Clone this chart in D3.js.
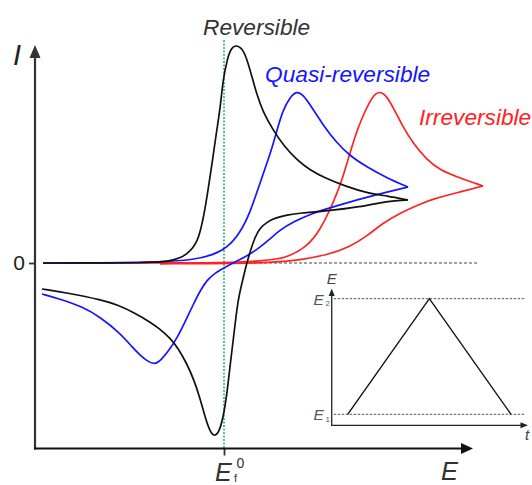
<!DOCTYPE html>
<html>
<head>
<meta charset="utf-8">
<script src="https://cdn.jsdelivr.net/npm/d3@7"></script>
<style>
  html, body { margin: 0; padding: 0; background: #fff; }
  svg { display: block; }
  text { font-family: "Liberation Sans", Arial, sans-serif; }
</style>
</head>
<body>
<svg id="chart" width="532" height="485"></svg>
<script>
// ---------------- DATA (E in mV vs. Ef0, I in arbitrary units) ----------------
const reversibleForward = [
  [-181,0],[-124,0],[-84,0.5],[-64,1],[-54,2],[-44,5],[-37,9],[-31,15],[-27,22],[-24,30],
  [-19,53],[-14,86],[-11,106],[-8,128],[-4,153],[-1,183],[3,203],[7,215],[12,218],[18,215],
  [23,204],[28,186],[33,168],[39,151],[49,133],[60,117],[73,103],[86,93],[101,85],[121,77],
  [143,70],[163,67],[184,63]
];
const reversibleReverse = [
  [184,63],[163,62],[136,56],[103,52],[76,50],[63,48],[51,45],[43,41],[36,35],[31,26],
  [26,11],[22,-3],[18,-20],[14,-37],[11,-62],[8,-87],[5,-112],[3,-130],[0,-150],[-4,-167],
  [-9,-174],[-14,-169],[-19,-154],[-24,-135],[-30,-117],[-37,-101],[-46,-85],[-54,-75],
  [-64,-66],[-74,-59],[-89,-50],[-106,-42],[-122,-37],[-156,-30],[-182,-26]
];
const quasiForward = [
  [-181,0],[-104,0],[-64,1],[-31,3],[-11,8],[3,15],[16,30],[26,50],[36,80],[43,100],
  [48,115],[53,133],[59,153],[66,166],[73,172],[79,168],[85,160],[99,138],[112,121],
  [126,107],[143,96],[163,85],[184,76]
];
const quasiReverse = [
  [184,76],[163,71],[136,64],[109,56],[89,50],[69,41],[56,33],[46,24],[34,14],[21,6],
  [9,0],[0,-5],[-9,-10],[-17,-17],[-24,-28],[-31,-42],[-39,-59],[-47,-75],[-54,-86],
  [-62,-96],[-69,-102],[-77,-98],[-84,-92],[-91,-85],[-104,-70],[-124,-54],[-141,-44],
  [-164,-36],[-182,-31]
];
const irreversibleForward = [
  [-181,0],[-24,0],[16,1],[36,2],[53,4],[63,6],[83,16],[96,33],
  [106,53],[113,70],[118,83],[126,110],[134,136],[143,156],[149,167],[155,172],[162,168],
  [169,156],[179,136],[189,120],[203,103],[216,93],[236,85],[259,77]
];
const irreversibleReverse = [
  [259,77],[236,71],[209,64],[196,59],[176,50],[159,40],[143,27],[126,16],[103,8],
  [76,3],[49,0.7],[16,-0.5],[-64,-0.8]
];
const seriesNames = ["Reversible", "Quasi-reversible", "Irreversible"];
const seriesColors = ["#111111", "#1515ff", "#ff2222"];
const yTickValues = [0];
const yTickLabels = ["0"];
const xTickValues = [0];            // Ef0
// inset: triangular potential waveform
const waveT = [0, 1, 2];
const waveE = [0, 1, 0];            // 0 = E1, 1 = E2
const waveLevelLabels = ["1", "2"];

// ---------------- LAYOUT ----------------
const svg = d3.select("#chart");
const axisColor = "#333333";
const x = d3.scaleLinear().domain([-189, 249]).range([35, 473]);
const y = d3.scaleLinear().domain([-185.5, 218]).range([448.5, 45]);

// dashed zero line
svg.append("line")
  .attr("x1", x(0)).attr("x2", 478).attr("y1", y(0)).attr("y2", y(0))
  .attr("stroke", "#444").attr("stroke-width", 1).attr("stroke-dasharray", "3,2");

// green Ef0 line
svg.append("line")
  .attr("x1", x(0)).attr("x2", x(0)).attr("y1", 40).attr("y2", y.range()[0])
  .attr("stroke", "#1fb45a").attr("stroke-width", 1.5).attr("stroke-dasharray", "2,1.5");

// axes via d3
const yAxis = d3.axisLeft(y).tickValues(yTickValues).tickFormat((d, i) => yTickLabels[i])
  .tickSize(6).tickSizeOuter(0).tickPadding(4);
const gy = svg.append("g").attr("transform", `translate(${x.range()[0]},0)`).call(yAxis);
gy.select(".domain").remove();
gy.selectAll(".tick line").attr("stroke", axisColor).attr("stroke-width", 1.8);
gy.selectAll(".tick text").attr("fill", "#222").style("font-size", "21px")
  .style("font-family", "'Liberation Sans', Arial, sans-serif");

const xAxis = d3.axisBottom(x).tickValues(xTickValues).tickFormat("").tickSize(7).tickSizeOuter(0);
const gx = svg.append("g").attr("transform", `translate(0,${y.range()[0]})`).call(xAxis);
gx.select(".domain").remove();
gx.selectAll(".tick line").attr("stroke", axisColor).attr("stroke-width", 1.8);

// axis lines with arrows
const x0 = x.range()[0], yb = y.range()[0];
svg.append("line").attr("x1", x0).attr("x2", x0).attr("y1", yb + 1).attr("y2", 55)
  .attr("stroke", axisColor).attr("stroke-width", 2.2);
svg.append("path").attr("d", `M${x0},45 L${x0 - 5.5},58 L${x0 + 5.5},58 Z`).attr("fill", axisColor);
svg.append("line").attr("x1", x0 - 1).attr("x2", 464).attr("y1", yb).attr("y2", yb)
  .attr("stroke", "#111").attr("stroke-width", 2.2);
svg.append("path").attr("d", `M473,${yb} L461,${yb - 5.5} L461,${yb + 5.5} Z`).attr("fill", "#111");

// curves
const line = d3.line().x(d => x(d[0])).y(d => y(d[1])).curve(d3.curveBasis);
const curves = [
  [irreversibleForward, irreversibleReverse, 2],
  [quasiForward, quasiReverse, 1],
  [reversibleForward, reversibleReverse, 0]
];
curves.forEach(([f, r, i]) => {
  [f, r].forEach(data => {
    svg.append("path").datum(data).attr("d", line)
      .attr("fill", "none").attr("stroke", seriesColors[i]).attr("stroke-width", 1.7)
      .attr("stroke-linejoin", "round");
  });
});

// series labels
const labelFont = "22.7px";
svg.append("text").attr("x", 203).attr("y", 35).text(seriesNames[0])
  .attr("fill", "#333").style("font-style", "italic").style("font-size", labelFont);
svg.append("text").attr("x", 265).attr("y", 82).text(seriesNames[1])
  .attr("fill", seriesColors[1]).style("font-style", "italic").style("font-size", labelFont);
svg.append("text").attr("x", 419).attr("y", 125).text(seriesNames[2])
  .attr("fill", seriesColors[2]).style("font-style", "italic").style("font-size", labelFont);

// axis titles
svg.append("text").attr("x", 13).attr("y", 65).text("I")
  .attr("fill", "#222").style("font-style", "italic").style("font-size", "29px");
svg.append("text").attr("x", 441).attr("y", 480).text("E")
  .attr("fill", "#333").style("font-style", "italic").style("font-size", "25.5px");
const ef = svg.append("text").attr("fill", "#333");
ef.append("tspan").attr("x", 215).attr("y", 481).text("E").style("font-style", "italic").style("font-size", "25px");
ef.append("tspan").attr("x", 234).attr("y", 482).text("f").style("font-size", "11px");
ef.append("tspan").attr("x", 236.5).attr("y", 468).text("0").style("font-size", "14px");

// ---------------- INSET ----------------
const tx = d3.scaleLinear().domain([0, 2]).range([347.7, 511]);
const ty = d3.scaleLinear().domain([0, 1]).range([414.3, 298.7]);
const ix0 = 331.7, iy0 = 425.3;
// dashed E1/E2 levels
[0, 1].forEach(v => {
  svg.append("line").attr("x1", ix0 + 2).attr("x2", 524.5).attr("y1", ty(v)).attr("y2", ty(v))
    .attr("stroke", "#555").attr("stroke-width", 1).attr("stroke-dasharray", "2.5,1.5");
});
svg.append("line").attr("x1", ix0).attr("x2", ix0).attr("y1", iy0 + 0.5).attr("y2", 294)
  .attr("stroke", "#222").attr("stroke-width", 1.3);
svg.append("path").attr("d", `M${ix0},288.5 L${ix0 - 3},296 L${ix0 + 3},296 Z`).attr("fill", "#222");
svg.append("line").attr("x1", ix0 - 0.5).attr("x2", 522).attr("y1", iy0).attr("y2", iy0)
  .attr("stroke", "#222").attr("stroke-width", 1.3);
svg.append("path").attr("d", `M528,${iy0} L520.5,${iy0 - 3} L520.5,${iy0 + 3} Z`).attr("fill", "#222");
svg.append("path").datum(waveT.map((t, i) => [t, waveE[i]]))
  .attr("d", d3.line().x(d => tx(d[0])).y(d => ty(d[1])))
  .attr("fill", "none").attr("stroke", "#111").attr("stroke-width", 1.4);
svg.append("text").attr("x", ix0).attr("y", 284).attr("text-anchor", "middle").text("E")
  .attr("fill", "#444").style("font-style", "italic").style("font-size", "15px");
svg.append("text").attr("x", 527).attr("y", 440).attr("text-anchor", "middle").text("t")
  .attr("fill", "#444").style("font-style", "italic").style("font-size", "15px");
[0, 1].forEach(v => {
  const tt = svg.append("text").attr("fill", "#555");
  tt.append("tspan").attr("x", 313.5).attr("y", ty(v) + 6).text("E")
    .style("font-style", "italic").style("font-size", "15.5px");
  tt.append("tspan").attr("x", 325.5).attr("y", ty(v) + 7.5).text(waveLevelLabels[v])
    .style("font-size", "8px");
});
</script>
</body>
</html>
